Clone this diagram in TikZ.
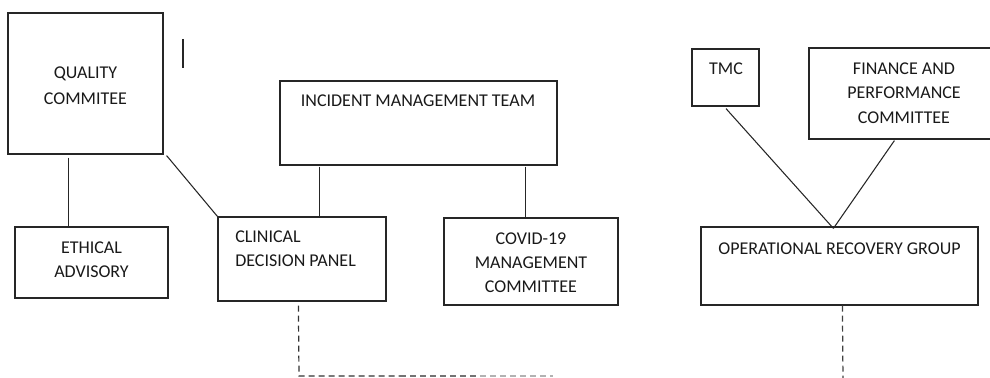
\documentclass[tikz,border=0pt]{standalone}
\usepackage{fontspec}
\setmainfont{Carlito}
\usetikzlibrary{calc,fit}
\begin{document}
\begin{tikzpicture}[x=0.75pt,y=-0.75pt,
  box/.style={draw=black!85, line width=0.9pt, inner sep=0pt},
  lbl/.style={text=black!90, font=\fontsize{13.5}{18}\selectfont, inner sep=0pt, anchor=base},
  lbll/.style={lbl, anchor=base west},
  link/.style={draw=black!85, line width=0.8pt},
  dlink/.style={line width=0.9pt, dash pattern=on 4.5pt off 3pt}]
\clip (0,0) rectangle (990,378);
\useasboundingbox (0,0) rectangle (990,378);

% boxes
\node[box, fit={(8,13) (163,154)}] (qc) {};
\node[box, fit={(15,227) (168,298)}] (eth) {};
\node[box, fit={(218,217) (386,301)}] (cdp) {};
\node[box, fit={(280,81) (557,165)}] (imt) {};
\node[box, fit={(444,218) (618,305)}] (cov) {};
\node[box, fit={(692,49) (759,106)}] (tmc) {};
\node[box, fit={(809,48) (1000,139)}] (fin) {};
\node[box, fit={(701,227) (978,305)}] (org) {};

% labels
\node[lbl] (qc1) at (85.5,79) {QUALITY};
\node[lbl] (qc2) at (85.5,105) {COMMITEE};
\node[lbl] (eth1) at (91.5,253) {ETHICAL};
\node[lbl] (eth2) at (91.5,277) {ADVISORY};
\node[lbll] (cdp1) at (235,243) {CLINICAL};
\node[lbll] (cdp2) at (235,266) {DECISION PANEL};
\node[lbl] (imt1) at (418,107) {INCIDENT MANAGEMENT TEAM};
\node[lbl] (cov1) at (531,244) {COVID-19};
\node[lbl] (cov2) at (531,268) {MANAGEMENT};
\node[lbl] (cov3) at (531,292) {COMMITTEE};
\node[lbl] (tmc1) at (726,75) {TMC};
\node[lbl] (fin1) at (904,75) {FINANCE AND};
\node[lbl] (fin2) at (904,99) {PERFORMANCE};
\node[lbl] (fin3) at (904,123) {COMMITTEE};
\node[lbl] (org1) at (839.5,254) {OPERATIONAL RECOVERY GROUP};

% stray mark
\coordinate (s1) at (183,39);
\coordinate (s2) at (183,68);
\draw[link] (s1) -- (s2);

% connectors
\draw[link] ($(qc.south west)+(61,3)$) -- ($(eth.north west)+(54,0)$);
\draw[link] ($(qc.south east)+(3,1)$) -- (cdp.north west);
\draw[link] ($(imt.south west)+(40,1)$) -- ($(cdp.north west)+(102,2)$);
\draw[link] ($(imt.south west)+(246,1)$) -- ($(cov.north west)+(82,0)$);
\draw[link] ($(tmc.south)+(0.5,2)$) -- ($(org.north west)+(133,2)$);
\draw[link] ($(fin.south west)+(86,1)$) -- ($(org.north west)+(133,2)$);

% dashed connectors
\coordinate (c1) at (299,376);
\coordinate (c2) at (400,376);
\coordinate (c3) at (480,376);
\coordinate (c4) at (553,376);
\draw[dlink, draw=black!80] ($(cdp.south west)+(81,4)$) -- (c1) -- (c2);
\draw[dlink, draw=black!55] (c2) -- (c3);
\draw[dlink, draw=black!30] (c3) -- (c4);
\coordinate (oend) at (843,380);
\draw[dlink, draw=black!75] ($(org.south west)+(142,0)$) -- (oend);
\end{tikzpicture}
\end{document}
